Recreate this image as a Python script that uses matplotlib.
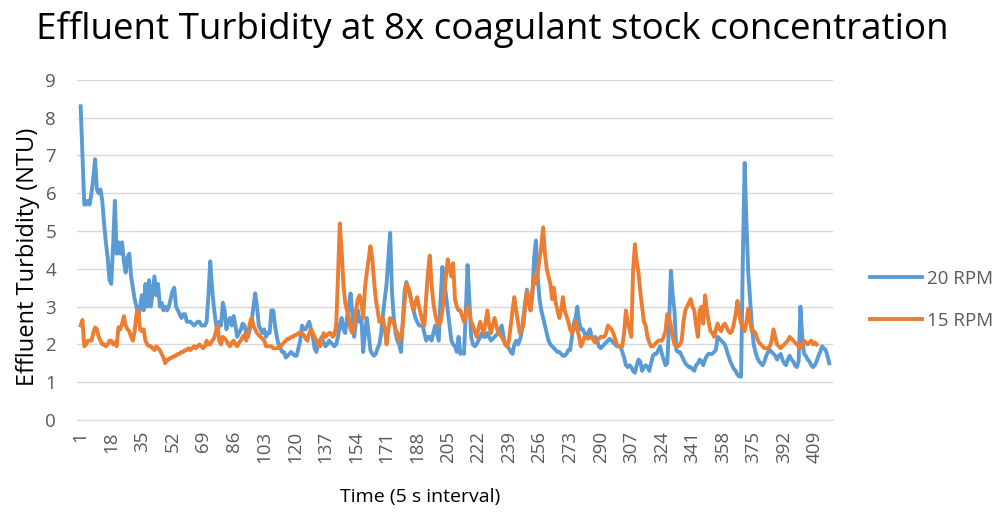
import matplotlib.pyplot as plt

## turbidity readings, one per 5 s interval
rpm20 = [8.3, 7.0, 5.7, 5.7, 5.8, 5.7, 6.0, 6.4, 6.9, 6.1,
         6.0, 6.1, 5.8, 5.2, 4.7, 4.3, 3.7, 3.6, 4.6, 5.8,
         4.4, 4.7, 4.4, 4.7, 4.2, 3.9, 4.3, 4.4, 3.8, 3.5,
         3.2, 3.0, 2.7, 3.0, 3.3, 2.9, 3.6, 3.0, 3.7, 3.0,
         3.4, 3.8, 3.3, 3.6, 3.0, 3.1, 2.9, 3.0, 2.9, 3.0,
         3.2, 3.4, 3.5, 3.0, 2.9, 2.8, 2.7, 2.8, 2.8, 2.6,
         2.6, 2.6, 2.55, 2.5, 2.55, 2.6, 2.6, 2.5, 2.5, 2.5,
         2.6, 3.3, 4.2, 3.5, 3.0, 2.6, 2.3, 2.6, 2.5, 3.1,
         2.9, 2.4, 2.6, 2.7, 2.5, 2.75, 2.5, 2.2, 2.3, 2.4,
         2.55, 2.5, 2.3, 2.2, 2.4, 2.6, 3.0, 3.35, 3.0, 2.5,
         2.4, 2.3, 2.4, 2.2, 2.3, 2.3, 2.9, 2.9, 2.5, 2.2,
         2.0, 1.9, 1.8, 1.8, 1.65, 1.7, 1.75, 1.8, 1.75, 1.7,
         1.7, 1.9, 2.1, 2.5, 2.4, 2.4, 2.5, 2.6, 2.4, 2.2,
         1.9, 1.8, 2.0, 2.1, 2.2, 2.05, 1.95, 2.0, 2.1, 2.05,
         2.0, 1.95, 2.0, 2.2, 2.5, 2.7, 2.4, 2.3, 2.7, 3.0,
         3.35, 2.8, 2.2, 2.6, 2.9, 2.6, 2.7, 1.8, 2.3, 2.7,
         2.3, 1.85, 1.75, 1.7, 1.75, 1.9, 2.0, 2.3, 2.8, 3.2,
         3.6, 4.3, 4.95, 3.4, 2.7, 2.3, 2.1, 2.0, 1.8, 2.6,
         3.4, 3.65, 3.5, 3.3, 3.1, 2.9, 2.7, 2.6, 2.5, 2.5,
         2.5, 2.3, 2.1, 2.2, 2.2, 2.1, 2.3, 2.5, 2.3, 2.1,
         3.2, 4.05, 3.7, 3.3, 2.9, 2.5, 2.1, 2.0, 1.95, 1.8,
         2.2, 1.75, 1.8, 1.75, 2.8, 4.1, 3.2, 2.2, 2.0, 1.95,
         2.0, 2.1, 2.2, 2.3, 2.2, 2.2, 2.3, 2.2, 2.1, 2.15,
         2.2, 2.25, 2.3, 2.4, 2.5, 2.2, 2.0, 1.95, 1.9, 1.8,
         1.75, 2.0, 2.1, 2.0, 2.1, 2.3, 2.7, 3.1, 3.45, 3.2,
         2.9, 3.3, 4.3, 4.75, 3.8, 3.2, 2.9, 2.7, 2.5, 2.3,
         2.1, 2.0, 1.95, 1.9, 1.85, 1.8, 1.8, 1.75, 1.7, 1.7,
         1.75, 1.85, 1.85, 2.2, 2.55, 2.7, 3.0, 2.6, 2.4, 2.4,
         2.3, 2.2, 2.3, 2.4, 2.2, 2.15, 2.2, 2.1, 1.95, 1.9,
         1.95, 2.0, 2.05, 2.1, 2.15, 2.1, 2.05, 2.0, 1.95, 1.95,
         1.95, 1.8, 1.65, 1.45, 1.4, 1.45, 1.4, 1.3, 1.25, 1.45,
         1.6, 1.55, 1.3, 1.4, 1.45, 1.4, 1.3, 1.5, 1.7, 1.75,
         1.75, 1.85, 1.95, 1.75, 1.6, 1.45, 1.5, 2.55, 3.95, 3.3,
         2.9, 1.85, 1.8, 1.8, 1.7, 1.6, 1.5, 1.45, 1.4, 1.4,
         1.35, 1.3, 1.45, 1.5, 1.6, 1.55, 1.45, 1.6, 1.7, 1.75,
         1.75, 1.75, 1.8, 1.85, 2.2, 2.15, 2.1, 2.05, 2.0, 1.85,
         1.7, 1.55, 1.45, 1.35, 1.3, 1.2, 1.15, 1.15, 4.3, 6.8,
         5.2, 3.9, 3.2, 2.5, 2.0, 1.8, 1.65, 1.55, 1.5, 1.45,
         1.55, 1.7, 1.8, 1.85, 1.8, 1.75, 1.7, 1.6, 1.7, 1.75,
         1.6, 1.5, 1.45, 1.6, 1.7, 1.6, 1.55, 1.45, 1.4, 1.55,
         3.0, 2.2, 1.75, 1.7, 1.6, 1.55, 1.45, 1.4, 1.45, 1.55,
         1.7, 1.8, 1.95, 1.9, 1.85, 1.7, 1.5]

rpm15 = [2.5, 2.65, 1.95, 2.0, 2.1, 2.1, 2.1, 2.3, 2.45, 2.4,
         2.2, 2.1, 2.0, 2.0, 1.95, 2.0, 2.1, 2.1, 2.0, 2.05,
         1.95, 2.45, 2.4, 2.55, 2.75, 2.5, 2.4, 2.35, 2.2, 2.1,
         2.35, 2.8, 2.9, 2.4, 2.35, 2.4, 2.1, 2.0, 1.95, 1.95,
         1.9, 1.85, 1.95, 1.9, 1.85, 1.75, 1.65, 1.5, 1.6, 1.6,
         1.65, 1.65, 1.7, 1.7, 1.75, 1.75, 1.8, 1.8, 1.85, 1.85,
         1.9, 1.85, 1.9, 1.95, 1.9, 1.95, 2.0, 1.95, 1.9, 1.95,
         2.1, 2.0, 2.0, 2.1, 2.15, 2.3, 2.5, 2.1, 2.0, 2.2,
         2.15, 2.1, 2.0, 1.95, 2.05, 2.1, 2.0, 1.95, 2.05, 2.1,
         2.2, 2.25, 2.1, 2.3, 2.55, 2.7, 2.5, 2.4, 2.3, 2.25,
         2.2, 2.15, 2.1, 1.95, 1.95, 1.95, 1.95, 1.9, 1.9, 1.9,
         1.9, 1.95, 2.0, 2.05, 2.1, 2.15, 2.15, 2.2, 2.2, 2.25,
         2.25, 2.3, 2.3, 2.3, 2.25, 2.15, 2.1, 2.3, 2.4, 2.3,
         2.2, 2.1, 2.0, 1.95, 2.1, 2.3, 2.2, 2.25, 2.3, 2.3,
         2.2, 2.25, 2.5, 3.8, 5.2, 4.5, 3.6, 3.1, 2.9, 2.7,
         2.4, 2.3, 2.5, 2.9, 3.2, 3.3, 3.1, 2.7, 3.5, 3.9,
         4.25, 4.6, 4.3, 3.7, 3.2, 2.9, 2.6, 2.6, 2.7, 2.4,
         2.0, 2.4, 2.7, 2.6, 2.6, 2.4, 2.3, 2.1, 2.2, 2.5,
         3.1, 3.6, 3.5, 3.35, 3.1, 2.9, 3.1, 3.25, 3.0, 2.8,
         2.6, 2.5, 3.25, 3.9, 4.35, 3.6, 3.1, 2.8, 2.6, 2.5,
         2.6, 2.9, 3.3, 3.8, 4.25, 4.0, 3.8, 4.15, 3.2, 3.0,
         2.9, 2.9, 2.75, 2.6, 2.8, 3.0, 2.8, 2.6, 2.5, 2.35,
         2.2, 2.4, 2.6, 2.45, 2.3, 2.6, 2.9, 2.5, 2.3, 2.5,
         2.7, 2.5, 2.3, 2.25, 2.2, 2.1, 2.0, 1.95, 2.1, 2.5,
         2.9, 3.25, 2.9, 2.6, 2.3, 2.4, 2.5, 3.0, 3.4, 3.1,
         2.9, 3.4, 3.8, 3.6, 3.9, 4.25, 4.6, 5.1, 4.4, 4.0,
         3.8, 3.6, 3.2, 3.5, 3.1, 2.9, 2.7, 2.9, 3.25, 2.9,
         2.75, 2.6, 2.4, 2.3, 2.4, 2.6, 2.4, 2.2, 1.95, 2.05,
         2.2, 2.2, 2.15, 2.2, 2.2, 2.1, 2.05, 2.1, 2.15, 2.2,
         2.2, 2.2, 2.3, 2.5, 2.45, 2.4, 2.3, 2.15, 2.0, 1.95,
         1.95, 1.95, 2.3, 2.9, 2.6, 2.4, 2.2, 3.95, 4.65, 4.2,
         3.9, 3.4, 3.0, 2.6, 2.5, 2.2, 2.05, 1.95, 1.95, 2.0,
         2.05, 2.1, 2.1, 2.1, 2.2, 2.35, 2.8, 2.7, 2.5, 2.2,
         2.0, 1.95, 1.95, 2.0, 2.1, 2.6, 2.9, 3.0, 3.1, 3.2,
         3.0, 2.9, 2.5, 2.2, 2.9, 3.0, 2.55, 3.3, 2.9, 2.6,
         2.35, 2.3, 2.2, 2.4, 2.55, 2.4, 2.35, 2.5, 2.55, 2.45,
         2.35, 2.3, 2.35, 2.55, 2.8, 3.15, 2.8, 2.55, 2.45, 2.35,
         2.6, 2.95, 2.6, 2.35, 2.35, 2.3, 2.15, 2.05, 2.0, 1.95,
         1.9, 1.9, 1.9, 1.95, 2.1, 2.4, 2.2, 2.0, 1.95, 1.9,
         1.95, 2.0, 2.05, 2.1, 2.2, 2.15, 2.1, 2.05, 2.0, 1.95,
         1.9, 2.0, 2.1, 2.05, 2.0, 2.05, 2.1, 2.0, 2.05, 2.0]

x_ticks = [1, 18, 35, 52, 69, 86, 103, 120, 137, 154, 171, 188, 205,
           222, 239, 256, 273, 290, 307, 324, 341, 358, 375, 392, 409]
y_ticks = [0, 1, 2, 3, 4, 5, 6, 7, 8, 9]

plt.rcParams['font.family'] = ['Open Sans', 'DejaVu Sans']

fig = plt.figure(figsize=(10.01, 5.17), dpi=100)
ax = fig.add_axes([0.077, 0.1876, 0.755, 0.658])

t20 = range(1, len(rpm20) + 1)
t15 = range(1, len(rpm15) + 1)
ax.plot(t20, rpm20, color='#5B9BD5', lw=2.8, label='20 RPM', solid_joinstyle='round')
ax.plot(t15, rpm15, color='#ED7D31', lw=2.8, label='15 RPM', solid_joinstyle='round')

ax.set_xlim(-1, 419)
ax.set_ylim(0, 9)
ax.set_yticks(y_ticks)
ax.set_xticks(x_ticks)
ax.set_xticklabels([str(v) for v in x_ticks], rotation=90)
ax.tick_params(axis='both', length=0, labelsize=13.5, colors='#595959')
ax.tick_params(axis='y', pad=15)
ax.tick_params(axis='x', pad=8)
ax.grid(axis='y', color='#D9D9D9', lw=1)
ax.set_axisbelow(True)
for s in ['top', 'right', 'left']:
    ax.spines[s].set_visible(False)
ax.spines['bottom'].set_color('#D9D9D9')

## axis titles placed by hand (pixel spots)
fig.text(28 / 1001, 1 - 257 / 517, 'Effluent Turbidity (NTU)', rotation=90,
         ha='center', va='center', fontsize=17)
fig.text(420 / 1001, 1 - 497 / 517, 'Time (5 s interval)',
         ha='center', va='center', fontsize=14)
fig.text(492 / 1001, 1 - 30 / 517,
         'Effluent Turbidity at 8x coagulant stock concentration',
         ha='center', va='center', fontsize=26.5)

fig.legend(loc='center left', bbox_to_anchor=(0.869, 0.42), frameon=False,
           fontsize=13.5, handlelength=2.8, labelspacing=1.3, handletextpad=0.25,
           labelcolor='#595959', borderaxespad=0, borderpad=0)

fig.savefig('out.png', dpi=100)
